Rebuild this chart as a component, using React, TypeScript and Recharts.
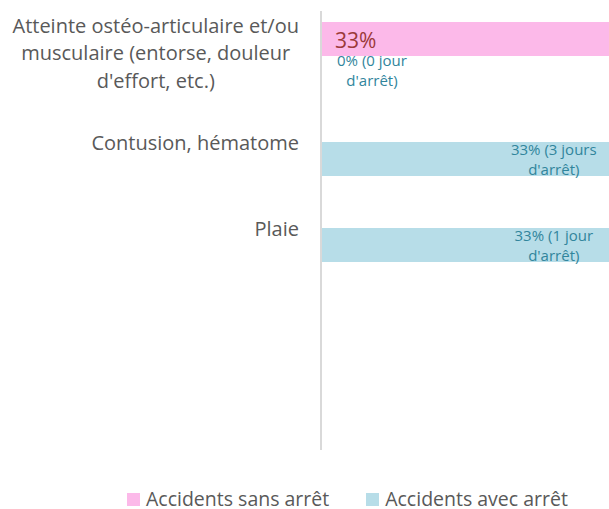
import React from 'react';
import { BarChart, Bar, XAxis, YAxis, LabelList } from 'recharts';

const categories = [
  "Atteinte ostéo-articulaire et/ou musculaire (entorse, douleur d'effort, etc.)",
  "Contusion, hématome",
  "Plaie",
  "",
  "",
];
const seriesNames = ["Accidents sans arrêt", "Accidents avec arrêt"];
const seriesColors = ["#fcb9e9", "#b7dde8"];
const sansArret = [0.33, 0, 0, null, null];
const avecArret = [0, 0.33, 0.33, null, null];
const sansArretLabels = ["33%", "", "", "", ""];
const avecArretLabels = ["0% (0 jour d'arrêt)", "33% (3 jours d'arrêt)", "33% (1 jour d'arrêt)", "", ""];

const data = categories.map((name, i) => ({
  name,
  sans: sansArret[i],
  avec: avecArret[i],
  sansLabel: sansArretLabels[i],
  avecLabel: avecArretLabels[i],
}));

const FONT = "'Open Sans', sans-serif";
const SEP = '\u0001';

function wrap(text: string, max: number): string[] {
  const words = text.split(' ');
  const lines: string[] = [];
  let cur = '';
  for (const w of words) {
    const next = cur ? cur + ' ' + w : w;
    if (next.length > max && cur) {
      lines.push(cur);
      cur = w;
    } else {
      cur = next;
    }
  }
  if (cur) lines.push(cur);
  return lines;
}

let ctx: CanvasRenderingContext2D | null = null;
function measure(text: string, font: string): number {
  if (!ctx) {
    const c = document.createElement('canvas');
    ctx = c.getContext('2d');
  }
  if (!ctx) return text.length * 10;
  ctx.font = font;
  return ctx.measureText(text).width;
}

const CategoryTick = (props: any) => {
  const { x, y, payload } = props;
  const text: string = payload && payload.value ? String(payload.value) : '';
  if (!text) return null;
  const lines = wrap(text, 32);
  const fs = 20;
  const lh = 27.5;
  const right = x - 22;
  if (lines.length === 1) {
    return (
      <text x={right} y={y + 8} textAnchor="end" fill="#595959" fontSize={fs} fontFamily={FONT}>
        {lines[0]}
      </text>
    );
  }
  const w = Math.max(...lines.map((l) => measure(l, `${fs}px Open Sans`)));
  const cx = right - w / 2;
  const startY = y + 4 - ((lines.length - 1) * lh) / 2;
  return (
    <text textAnchor="middle" fill="#595959" fontSize={fs} fontFamily={FONT}>
      {lines.map((l, i) => (
        <tspan key={i} x={cx} y={startY + i * lh}>
          {l}
        </tspan>
      ))}
    </text>
  );
};

const AvecText = ({ text, cx, base }: { text: string; cx: number; base: number }) => {
  const lines = wrap(text, 12);
  return (
    <text textAnchor="middle" fill="#31859c" fontSize={15} fontFamily={FONT}>
      {lines.map((l, i) => (
        <tspan key={i} x={cx} y={base + i * 19.5}>
          {l}
        </tspan>
      ))}
    </text>
  );
};

// Label of the "sans arrêt" bar; also carries the label of a zero-valued
// "avec arrêt" bar in the same category (drawn in the slot just below).
const renderSans = (props: any) => {
  const vb = props.viewBox || props;
  const { x, y, height } = vb;
  const raw = props.value ? String(props.value) : '';
  if (!raw) return null;
  const [own, zeroAvec] = raw.split(SEP);
  return (
    <g>
      {own ? (
        <text x={x + 14} y={y + height / 2 + 9} fill="#9b3a3a" fontSize={21} fontFamily={FONT}>
          {own}
        </text>
      ) : null}
      {zeroAvec ? <AvecText text={zeroAvec} cx={x + 51} base={y + height + height / 2 - 7} /> : null}
    </g>
  );
};

const renderAvec = (props: any) => {
  const vb = props.viewBox || props;
  const { x, y, width, height } = vb;
  const text = props.value;
  if (!text || !(width > 0)) return null;
  return <AvecText text={String(text)} cx={x + width - 84} base={y + height / 2 - 4} />;
};

export default function App() {
  return (
    <div style={{ position: 'absolute', left: 0, top: 0, width: 609, height: 509, background: '#fff', fontFamily: FONT }}>
      <BarChart
        width={609}
        height={450}
        data={data}
        layout="vertical"
        margin={{ top: 11, right: 0, bottom: 0, left: 0 }}
        barGap={0}
        barSize={34}
      >
        <XAxis type="number" hide domain={[0, 0.3]} allowDataOverflow />
        <YAxis
          type="category"
          dataKey="name"
          width={321}
          tickLine={false}
          tickSize={0}
          tickMargin={0}
          axisLine={{ stroke: '#d9d9d9', strokeWidth: 2 }}
          padding={{ top: 2, bottom: 7 }}
          tick={<CategoryTick />}
          interval={0}
        />
        <Bar dataKey="sans" name={seriesNames[0]} fill={seriesColors[0]} isAnimationActive={false}>
          <LabelList
            dataKey={(d: any) => (d.sansLabel || '') + SEP + (d.avec === 0 ? d.avecLabel : '')}
            content={renderSans}
          />
        </Bar>
        <Bar dataKey="avec" name={seriesNames[1]} fill={seriesColors[1]} isAnimationActive={false}>
          <LabelList dataKey="avecLabel" content={renderAvec} />
        </Bar>
      </BarChart>
      <div
        style={{
          position: 'absolute',
          top: 487,
          left: 127,
          height: 24,
          display: 'flex',
          alignItems: 'center',
          fontSize: 19.5,
          lineHeight: '22px',
          color: '#595959',
          whiteSpace: 'nowrap',
        }}
      >
        {seriesNames.map((n, i) => (
          <div key={n} style={{ display: 'flex', alignItems: 'center', marginRight: i === 0 ? 37 : 0 }}>
            <div style={{ width: 13, height: 13, background: seriesColors[i], marginRight: 6 }} />
            <span>{n}</span>
          </div>
        ))}
      </div>
    </div>
  );
}
